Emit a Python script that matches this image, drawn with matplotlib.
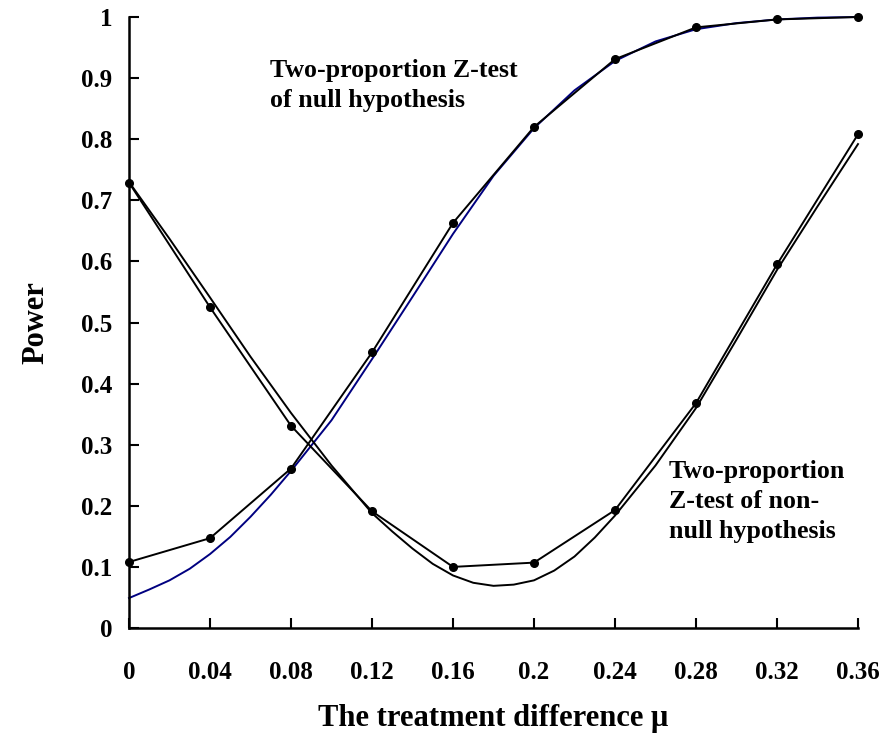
import matplotlib
matplotlib.use("Agg")
import matplotlib.pyplot as plt

# ---- data ----
x_sim = [0, 0.04, 0.08, 0.12, 0.16, 0.2, 0.24, 0.28, 0.32, 0.36]
null_sim = [0.108, 0.147, 0.261, 0.451, 0.663, 0.820, 0.931, 0.983, 0.996, 1.000]
nonnull_sim = [0.729, 0.525, 0.331, 0.191, 0.100, 0.107, 0.193, 0.368, 0.595, 0.808]

x_null_theory = [0, 0.01, 0.02, 0.03, 0.04, 0.05, 0.06, 0.07, 0.08, 0.10, 0.12, 0.14,
                 0.16, 0.18, 0.20, 0.22, 0.24, 0.26, 0.28, 0.30, 0.32, 0.34, 0.36]
null_theory = [0.049, 0.063, 0.078, 0.097, 0.121, 0.149, 0.182, 0.218, 0.257, 0.340, 0.440, 0.542,
               0.645, 0.740, 0.818, 0.880, 0.928, 0.960, 0.980, 0.990, 0.996, 0.999, 1.000]

x_nonnull_theory = [0, 0.02, 0.04, 0.06, 0.08, 0.10, 0.12, 0.13, 0.14, 0.15, 0.16, 0.17,
                    0.18, 0.19, 0.20, 0.21, 0.22, 0.23, 0.24, 0.26, 0.28, 0.30, 0.32,
                    0.34, 0.36]
nonnull_theory = [0.730, 0.637, 0.541, 0.444, 0.352, 0.266, 0.188, 0.158, 0.130, 0.105, 0.086, 0.074,
                  0.069, 0.071, 0.078, 0.094, 0.117, 0.148, 0.184, 0.266, 0.360, 0.472, 0.586,
                  0.690, 0.792]

x_ticks = [0, 0.04, 0.08, 0.12, 0.16, 0.2, 0.24, 0.28, 0.32, 0.36]
x_tick_labels = ["0", "0.04", "0.08", "0.12", "0.16", "0.2", "0.24", "0.28", "0.32", "0.36"]
y_ticks = [0, 0.1, 0.2, 0.3, 0.4, 0.5, 0.6, 0.7, 0.8, 0.9, 1]
y_tick_labels = ["0", "0.1", "0.2", "0.3", "0.4", "0.5", "0.6", "0.7", "0.8", "0.9", "1"]

plt.rcParams['font.family'] = ['Liberation Serif', 'DejaVu Serif']
plt.rcParams['font.weight'] = 'bold'

fig = plt.figure(figsize=(8.85, 7.34), dpi=100)
ax = fig.add_axes([129 / 885, 1 - 628 / 734, (858 - 129) / 885, (628 - 17) / 734])

ax.plot(x_null_theory, null_theory, color='#000080', lw=1.4, zorder=2, clip_on=False,
        solid_joinstyle='round')
ax.plot(x_nonnull_theory, nonnull_theory, color='black', lw=1.4, zorder=2, clip_on=False,
        solid_joinstyle='round')
ax.plot(x_sim, null_sim, color='black', lw=1.4, marker='o', ms=5.5, zorder=3, clip_on=False)
ax.plot(x_sim, nonnull_sim, color='black', lw=1.4, marker='o', ms=5.5, zorder=3, clip_on=False)

ax.set_xlim(0, 0.36)
ax.set_ylim(0, 1)
ax.set_xticks(x_ticks)
ax.set_xticklabels(x_tick_labels)
ax.set_yticks(y_ticks)
ax.set_yticklabels(y_tick_labels)

for s in ['top', 'right']:
    ax.spines[s].set_visible(False)
for s in ['left', 'bottom']:
    ax.spines[s].set_linewidth(1.8)

ax.tick_params(axis='x', direction='in', length=7, width=1.5, labelsize=18, pad=24)
ax.tick_params(axis='y', direction='in', length=7, width=1.5, labelsize=18, pad=12)
for lab in ax.get_xticklabels() + ax.get_yticklabels():
    lab.set_fontweight('bold')

ax.set_xlabel("The treatment difference μ", fontsize=22, fontweight='bold', labelpad=14)
ax.set_ylabel("Power", fontsize=22, fontweight='bold', labelpad=22)

ax.text(0.0696, 0.932, "Two-proportion Z-test\nof null hypothesis", fontsize=18.6,
        fontweight='bold', ha='left', va='top', linespacing=1.4)
ax.text(0.2667, 0.275, "Two-proportion\nZ-test of non-\nnull hypothesis", fontsize=18.6,
        fontweight='bold', ha='left', va='top', linespacing=1.4)

fig.savefig("out.png", dpi=100)
